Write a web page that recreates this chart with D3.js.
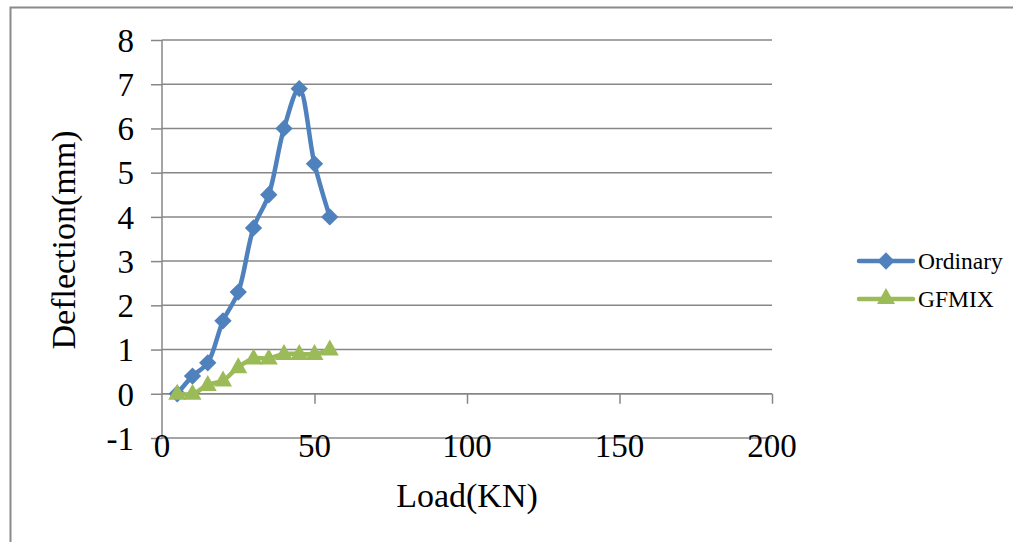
<!DOCTYPE html>
<html>
<head>
<meta charset="utf-8">
<script src="https://cdn.jsdelivr.net/npm/d3@7"></script>
<style>
  html, body { margin: 0; padding: 0; background: #fff; }
  svg { display: block; }
  text { font-family: "Liberation Serif", "Times New Roman", serif; fill: #000; }
</style>
</head>
<body>
<svg id="chart" width="1013" height="542"></svg>
<script>
// Data
const loads = [5, 10, 15, 20, 25, 30, 35, 40, 45, 50, 55];
const ordinary = [0, 0.4, 0.7, 1.65, 2.3, 3.75, 4.5, 6.0, 6.9, 5.2, 4.0];
const gfmix = [0, 0, 0.2, 0.3, 0.6, 0.8, 0.8, 0.9, 0.9, 0.9, 1.0];
const seriesNames = ["Ordinary", "GFMIX"];
const xTicks = [0, 50, 100, 150, 200];
const yTicks = [-1, 0, 1, 2, 3, 4, 5, 6, 7, 8];
const xTitle = "Load(KN)";
const yTitle = "Deflection(mm)";

const svg = d3.select("#chart");
const W = 1013, H = 542;
const gridColor = "#878787";
const colors = ["#4F81BD", "#9BBB59"];

// chart frame
svg.append("path")
  .attr("d", `M10.5,${H} L10.5,7.5 L${W},7.5`)
  .attr("fill", "none").attr("stroke", "#8a8a8a").attr("stroke-width", 2);

const x = d3.scaleLinear().domain([0, 200]).range([162, 772]);
const y = d3.scaleLinear().domain([-1, 8]).range([438, 40]);

// gridlines
svg.append("g").selectAll("line").data(yTicks).join("line")
  .attr("x1", x(0)).attr("x2", x(200))
  .attr("y1", d => y(d)).attr("y2", d => y(d))
  .attr("stroke", gridColor).attr("stroke-width", 1.5);

// y axis
const yAxis = d3.axisLeft(y).tickValues(yTicks).tickSize(11).tickPadding(17).tickFormat(d => String(d));
const gy = svg.append("g").attr("transform", `translate(${x(0)},0)`).call(yAxis);
gy.select(".domain").attr("stroke", gridColor).attr("stroke-width", 1.5).attr("d", `M0,${y(8)}V${y(-1)}`);
gy.selectAll(".tick line").attr("stroke", gridColor).attr("stroke-width", 1.5);
gy.selectAll(".tick text").attr("font-size", 33).attr("font-family", "Liberation Serif").attr("dy", "0.34em").attr("fill", "#000");

// x axis at y=0 with ticks downward
const xAxis = d3.axisBottom(x).tickValues(xTicks).tickSize(10).tickFormat("");
const gx = svg.append("g").attr("transform", `translate(0,${y(0)})`).call(xAxis);
gx.select(".domain").attr("stroke", gridColor).attr("stroke-width", 1.5).attr("d", `M${x(0)},0H${x(200)}`);
gx.selectAll(".tick line").attr("stroke", gridColor).attr("stroke-width", 1.5);
gx.selectAll(".tick").filter(d => d === 0).select("line").remove();

// x tick labels low position
svg.append("g").selectAll("text").data(xTicks).join("text")
  .attr("x", d => x(d)).attr("y", 457)
  .attr("text-anchor", "middle").attr("font-size", 33)
  .text(d => d);

// titles
svg.append("text").attr("x", 467).attr("y", 507).attr("text-anchor", "middle")
  .attr("font-size", 34).text(xTitle);
svg.append("text").attr("transform", "translate(75,240) rotate(-90)")
  .attr("text-anchor", "middle").attr("font-size", 34).text(yTitle);

// series
const line = d3.line().x(d => x(d[0])).y(d => y(d[1])).curve(d3.curveCatmullRom.alpha(0.5));
const allSeries = [ordinary, gfmix];
const diamond = d3.symbol().type(d3.symbolSquare).size(150);
const tri = (cx, cy) => `M${cx},${cy - 10}L${cx + 9},${cy + 6}L${cx - 9},${cy + 6}Z`;

allSeries.forEach((vals, i) => {
  const pts = loads.map((l, j) => [l, vals[j]]);
  svg.append("path").datum(pts).attr("d", line)
    .attr("fill", "none").attr("stroke", colors[i]).attr("stroke-width", 4.5)
    .attr("stroke-linejoin", "round");
  const g = svg.append("g");
  if (i === 0) {
    g.selectAll("path").data(pts).join("path")
      .attr("d", diamond)
      .attr("transform", d => `translate(${x(d[0])},${y(d[1])}) rotate(45)`)
      .attr("fill", colors[i]);
  } else {
    g.selectAll("path").data(pts).join("path")
      .attr("d", d => tri(x(d[0]), y(d[1])))
      .attr("fill", colors[i]);
  }
});

// legend
const legY = [261, 299];
seriesNames.forEach((name, i) => {
  svg.append("line").attr("x1", 859).attr("x2", 913)
    .attr("y1", legY[i]).attr("y2", legY[i])
    .attr("stroke", colors[i]).attr("stroke-width", 4.5).attr("stroke-linecap", "round");
  if (i === 0) {
    svg.append("path").attr("d", diamond)
      .attr("transform", `translate(886,${legY[i]}) rotate(45)`).attr("fill", colors[i]);
  } else {
    svg.append("path").attr("d", tri(886, legY[i] - 1)).attr("fill", colors[i]);
  }
  svg.append("text").attr("x", 918).attr("y", legY[i]).attr("dy", "0.34em")
    .attr("font-size", 23.5).text(name);
});
</script>
</body>
</html>
